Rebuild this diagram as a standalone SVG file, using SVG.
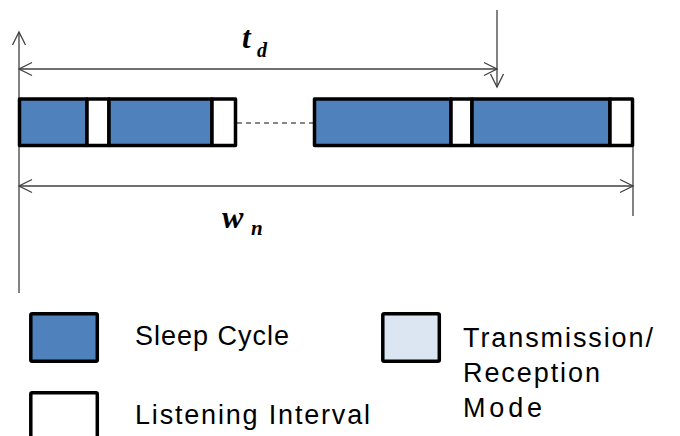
<svg xmlns="http://www.w3.org/2000/svg" width="680" height="436" viewBox="0 0 680 436">
<style>
.ln{stroke:#404040;stroke-width:1.3;fill:none}
.seg{stroke:#000;stroke-width:3.5;stroke-linejoin:round}
.blue{fill:#4F81BD}
.white{fill:#FFFFFF}
.light{fill:#DCE6F2}
.math{font-family:"Liberation Serif",serif;font-weight:bold;font-style:italic;fill:#000}
.lbl{font-family:"Liberation Sans",Arial,sans-serif;font-size:27px;fill:#000}
</style>
<defs>
<marker id="ch" markerUnits="userSpaceOnUse" markerWidth="16" markerHeight="16" viewBox="0 0 16 16" refX="14" refY="8" orient="auto-start-reverse">
<path d="M1,1.5 L14,8 L1,14.5" fill="none" stroke="#404040" stroke-width="1.3"/>
</marker>
</defs>
<rect width="680" height="436" fill="#FFFFFF"/>
<g id="connectors">
<line class="ln" x1="19" y1="293" x2="19" y2="32" marker-end="url(#ch)"/>
<line class="ln" x1="19" y1="69" x2="497" y2="69" marker-start="url(#ch)" marker-end="url(#ch)"/>
<line class="ln" x1="497" y1="10" x2="497" y2="87" marker-end="url(#ch)"/>
<line class="ln" x1="19" y1="186" x2="633" y2="186" marker-start="url(#ch)" marker-end="url(#ch)"/>
<line class="ln" x1="633" y1="147" x2="633" y2="216"/>
<line x1="237" y1="123" x2="313" y2="123" stroke="#606060" stroke-width="1.3" stroke-dasharray="5,4"/>
</g>
<g id="bar-left">
<rect class="seg blue" x="19.5" y="99" width="67.5" height="46.5"/>
<rect class="seg white" x="87" y="99" width="22" height="46.5"/>
<rect class="seg blue" x="109" y="99" width="103" height="46.5"/>
<rect class="seg white" x="212" y="99" width="23.5" height="46.5"/>
</g>
<g id="bar-right">
<rect class="seg blue" x="314.5" y="99" width="136.5" height="46.5"/>
<rect class="seg white" x="451" y="99" width="21" height="46.5"/>
<rect class="seg blue" x="472" y="99" width="138" height="46.5"/>
<rect class="seg white" x="610" y="99" width="22.5" height="46.5"/>
</g>
<g id="label-td">
<text class="math" x="242" y="48" font-size="31">t</text>
<text class="math" x="257" y="57" font-size="20">d</text>
</g>
<g id="label-wn">
<text class="math" x="222" y="228" font-size="32">w</text>
<text class="math" x="251" y="235" font-size="21">n</text>
</g>
<g id="legend-sleep">
<rect class="seg blue" x="30.8" y="313.8" width="66.5" height="47.5" rx="1.5"/>
<text class="lbl" x="135" y="345" textLength="154" lengthAdjust="spacing">Sleep Cycle</text>
</g>
<g id="legend-listen">
<rect class="seg white" x="30.8" y="392.8" width="66.5" height="60" rx="1.5"/>
<text class="lbl" x="135" y="424" textLength="235" lengthAdjust="spacing">Listening Interval</text>
</g>
<g id="legend-trx">
<rect class="seg light" x="382.8" y="313.8" width="56.5" height="47.5" rx="1.5"/>
<text class="lbl" x="463" y="347" textLength="190" lengthAdjust="spacing">Transmission/</text>
<text class="lbl" x="463" y="382" textLength="137" lengthAdjust="spacing">Reception</text>
<text class="lbl" x="463" y="417" textLength="79" lengthAdjust="spacing">Mode</text>
</g>
</svg>
